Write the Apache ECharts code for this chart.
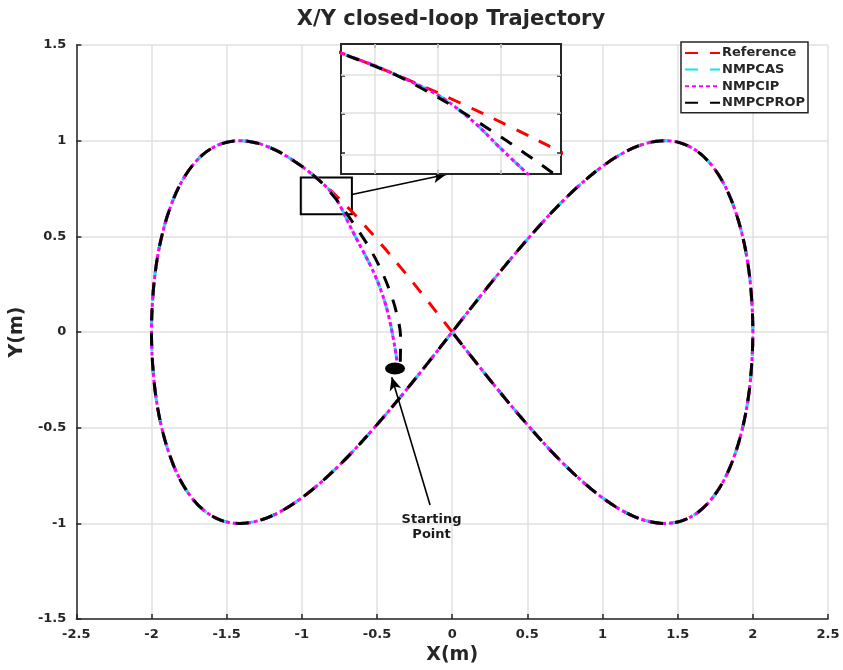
<!DOCTYPE html>
<html>
<head>
<meta charset="utf-8">
<script src="https://cdn.jsdelivr.net/npm/echarts@6/dist/echarts.min.js"></script>
<style>
  html, body { margin: 0; padding: 0; background: #ffffff; }
  #chart { width: 843px; height: 670px; }
</style>
</head>
<body>
<div id="chart"></div>
<script>
// Reference figure-eight (metres), starting at the origin and heading up-left.
const refX = [0, -0.087, -0.174, -0.261, -0.347, -0.433, -0.518, -0.601, -0.684, -0.765, -0.845, -0.923,
  -1.0, -1.075, -1.147, -1.218, -1.286, -1.351, -1.414, -1.532, -1.638, -1.732, -1.813, -1.879, -1.932,
  -1.970, -1.992, -2.0, -1.992, -1.970, -1.932, -1.879, -1.813, -1.732, -1.638, -1.532, -1.414, -1.286,
  -1.147, -1.0, -0.845, -0.684, -0.518, -0.347, -0.174, 0, 0.174, 0.347, 0.518, 0.684, 0.845, 1.0, 1.147,
  1.286, 1.414, 1.532, 1.638, 1.732, 1.813, 1.879, 1.932, 1.970, 1.992, 2.0, 1.992, 1.970, 1.932, 1.879,
  1.813, 1.732, 1.638, 1.532, 1.414, 1.286, 1.147, 1.0, 0.845, 0.684, 0.518, 0.347, 0.174, 0];
const refY = [0, 0.087, 0.174, 0.259, 0.342, 0.423, 0.5, 0.574, 0.643, 0.707, 0.766, 0.819,
  0.866, 0.906, 0.940, 0.966, 0.985, 0.996, 1.0, 0.985, 0.940, 0.866, 0.766, 0.643, 0.5,
  0.342, 0.174, 0, -0.174, -0.342, -0.5, -0.643, -0.766, -0.866, -0.940, -0.985, -1.0, -0.985,
  -0.940, -0.866, -0.766, -0.643, -0.5, -0.342, -0.174, 0, 0.174, 0.342, 0.5, 0.643, 0.766, 0.866, 0.940,
  0.985, 1.0, 0.985, 0.940, 0.866, 0.766, 0.643, 0.5, 0.342, 0.174, 0, -0.174, -0.342, -0.5, -0.643,
  -0.766, -0.866, -0.940, -0.985, -1.0, -0.985, -0.940, -0.866, -0.766, -0.643, -0.5, -0.342, -0.174, 0];

// Transients from the starting point until each controller joins the reference path.
const casStartX = [-0.368, -0.380, -0.396, -0.414, -0.440, -0.469, -0.502, -0.542, -0.581, -0.618,
  -0.651, -0.680, -0.707, -0.734, -0.760, -0.788, -0.820, -0.855, -0.900];
const casStartY = [-0.148, -0.085, -0.015, 0.055, 0.137, 0.207, 0.276, 0.345, 0.405, 0.460,
  0.510, 0.555, 0.598, 0.643, 0.680, 0.715, 0.745, 0.772, 0.805];
const ipStartX = [-0.368, -0.380, -0.396, -0.414, -0.440, -0.469, -0.502, -0.542, -0.581, -0.618,
  -0.651, -0.680, -0.707, -0.734, -0.760, -0.788, -0.820, -0.855, -0.900];
const ipStartY = [-0.148, -0.085, -0.015, 0.055, 0.137, 0.207, 0.276, 0.345, 0.405, 0.460,
  0.510, 0.555, 0.598, 0.643, 0.680, 0.715, 0.745, 0.772, 0.805];
const propStartX = [-0.345, -0.343, -0.370, -0.420, -0.485, -0.558, -0.620, -0.660, -0.697, -0.735,
  -0.775, -0.818, -0.868, -0.920, -0.970];
const propStartY = [-0.155, -0.030, 0.100, 0.225, 0.345, 0.450, 0.525, 0.572, 0.614, 0.655,
  0.697, 0.738, 0.781, 0.816, 0.848];
// Index of the reference sample where each transient hands over to the tracked path.
const casJoin = 11;
const ipJoin = 11;
const propJoin = 12;

const startPoint = [-0.38, -0.19];

// Zoomed detail window and its axes.
const zoomBoxX = [-1.007, -0.667];
const zoomBoxY = [0.615, 0.807];
const insetX = [-0.954, -0.604];
const insetY = [0.519, 0.862];
const insetGridX = [-0.9, -0.8, -0.7];
const insetGridY = [0.779, 0.677, 0.574];

// Annotation arrows and text anchor.
const zoomArrow = [[-0.667, 0.719], [-0.04, 0.823]];
const startArrow = [[-0.147, -0.904], [-0.402, -0.236]];
const startNote = [-0.137, -1.02];

const FONT = '"DejaVu Sans", Verdana, sans-serif';
const INK = '#262626';
const GRID = '#e0e0e0';

const pairs = (xs, ys) => xs.map((x, i) => [x, ys[i]]);
const refData = pairs(refX, refY);
const casData = pairs(casStartX, casStartY).concat(refData.slice(casJoin));
const ipData = pairs(ipStartX, ipStartY).concat(refData.slice(ipJoin));
const propData = pairs(propStartX, propStartY).concat(refData.slice(propJoin));

const traces = [
  { name: 'Reference', data: refData, color: '#ff0000', dash: [13, 12] },
  { name: 'NMPCAS', data: casData, color: '#12e2f2', dash: [13, 12] },
  { name: 'NMPCIP', data: ipData, color: '#ff00ff', dash: [4, 3] },
  { name: 'NMPCPROP', data: propData, color: '#000000', dash: [13, 12] }
];

function lineSeries(t, axis, z) {
  return {
    name: t.name,
    type: 'line',
    xAxisIndex: axis,
    yAxisIndex: axis,
    data: t.data,
    symbol: 'none',
    showSymbol: false,
    smooth: 0.35,
    clip: true,
    z: z,
    silent: true,
    lineStyle: { color: t.color, width: 3, type: t.dash, cap: 'butt' },
    itemStyle: { color: t.color }
  };
}

const series = [];
traces.forEach(t => series.push(lineSeries(t, 0, 2)));
traces.forEach(t => series.push(lineSeries(t, 1, 12)));

// Inset grid lines, drawn on the inset reference series.
series[4].markLine = {
  silent: true,
  symbol: 'none',
  z: 11,
  animation: false,
  label: { show: false },
  lineStyle: { color: GRID, width: 1.5, type: 'solid' },
  data: insetGridX.map(v => ({ xAxis: v })).concat(insetGridY.map(v => ({ yAxis: v })))
};

// Starting-point marker with the zoom window, arrows and note.
series.push({
  name: 'start',
  type: 'scatter',
  xAxisIndex: 0,
  yAxisIndex: 0,
  data: [startPoint],
  symbol: 'circle',
  symbolSize: [20, 12],
  itemStyle: { color: '#000000', opacity: 1 },
  z: 6,
  silent: true,
  markArea: {
    silent: true,
    itemStyle: { color: 'rgba(0,0,0,0)', borderColor: '#000000', borderWidth: 2 },
    label: { show: false },
    data: [[{ coord: [zoomBoxX[0], zoomBoxY[1]] }, { coord: [zoomBoxX[1], zoomBoxY[0]] }]]
  },
  markLine: {
    silent: true,
    symbol: ['none', 'arrow'],
    symbolSize: [9, 13],
    animation: false,
    label: { show: false },
    lineStyle: { color: '#000000', width: 1.6, type: 'solid' },
    data: [
      [{ coord: zoomArrow[0] }, { coord: zoomArrow[1] }],
      [{ coord: startArrow[0] }, { coord: startArrow[1] }]
    ]
  }
});
series.push({
  name: 'note',
  type: 'scatter',
  xAxisIndex: 0,
  yAxisIndex: 0,
  data: [startNote],
  symbolSize: 1,
  itemStyle: { color: 'rgba(0,0,0,0)', opacity: 1 },
  silent: true,
  z: 6,
  label: {
    show: true,
    position: 'inside',
    formatter: 'Starting\nPoint',
    color: '#1a1a1a',
    fontFamily: FONT,
    fontWeight: 'bold',
    fontSize: 13,
    lineHeight: 15,
    align: 'center'
  }
});

const mainAxisCommon = {
  axisLine: { show: true, onZero: false, lineStyle: { color: INK, width: 1.5 } },
  axisTick: { show: true, inside: true, length: 5, lineStyle: { color: INK, width: 1.5 } },
  axisLabel: { color: INK, fontFamily: FONT, fontWeight: 'bold', fontSize: 13 },
  splitLine: { show: true, lineStyle: { color: GRID, width: 1.5 } },
  nameLocation: 'middle',
  nameTextStyle: { color: INK, fontFamily: FONT, fontWeight: 'bold', fontSize: 19 }
};

// Inset axes: no labels, short inward ticks on all four sides at the grid positions.
function insetAxis(position, range, ticks) {
  return {
    type: 'value',
    gridIndex: 1,
    position: position,
    z: 10,
    min: range[0],
    max: range[1],
    axisLine: { show: false },
    axisLabel: { show: false },
    splitLine: { show: false },
    axisTick: { show: true, inside: true, length: 4, customValues: ticks,
      lineStyle: { color: INK, width: 1.5 } }
  };
}

const option = {
  backgroundColor: '#ffffff',
  animation: false,
  title: {
    text: 'X/Y closed-loop Trajectory',
    left: 446,
    top: 4,
    textAlign: 'center',
    textStyle: { color: INK, fontFamily: FONT, fontWeight: 'bold', fontSize: 21 }
  },
  legend: {
    data: ['Reference', 'NMPCAS', 'NMPCIP', 'NMPCPROP'],
    orient: 'vertical',
    right: 35,
    top: 42,
    padding: [4, 3, 3, 3],
    itemWidth: 35,
    itemHeight: 12,
    itemGap: 2.6,
    backgroundColor: '#ffffff',
    borderColor: INK,
    borderWidth: 1.5,
    borderRadius: 0,
    selectedMode: false,
    itemStyle: { color: 'rgba(0,0,0,0)', borderWidth: 0, opacity: 0 },
    textStyle: { color: INK, fontFamily: FONT, fontWeight: 'bold', fontSize: 13, lineHeight: 14, padding: [0, 0, 0, -3] }
  },
  grid: [
    { left: 76, right: 15, top: 45, bottom: 48, containLabel: false },
    { left: 341, top: 44, width: 220, height: 130, z: 10, show: true,
      backgroundColor: '#ffffff', borderColor: INK, borderWidth: 2 }
  ],
  xAxis: [
    Object.assign({}, mainAxisCommon, {
      type: 'value', gridIndex: 0, min: -2.5, max: 2.5, interval: 0.5,
      name: 'X(m)', nameGap: 25,
      axisLabel: Object.assign({}, mainAxisCommon.axisLabel, { margin: 9 })
    }),
    insetAxis('bottom', insetX, insetGridX),
    insetAxis('top', insetX, insetGridX)
  ],
  yAxis: [
    Object.assign({}, mainAxisCommon, {
      type: 'value', gridIndex: 0, min: -1.5, max: 1.5, interval: 0.5,
      name: 'Y(m)', nameGap: 43, nameRotate: 90,
      axisLabel: Object.assign({}, mainAxisCommon.axisLabel, { margin: 10 })
    }),
    insetAxis('left', insetY, insetGridY),
    insetAxis('right', insetY, insetGridY)
  ],
  series: series
};

const chart = echarts.init(document.getElementById('chart'), null, { renderer: 'canvas' });
chart.setOption(option);
</script>
</body>
</html>
